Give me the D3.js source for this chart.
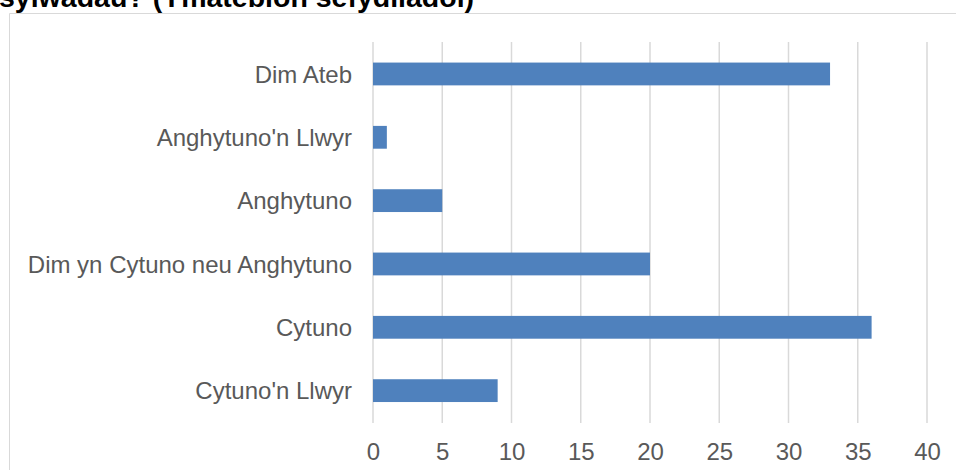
<!DOCTYPE html>
<html>
<head>
<meta charset="utf-8">
<script src="https://cdn.jsdelivr.net/npm/d3@7"></script>
<style>
  html, body { margin: 0; padding: 0; background: #fff; overflow: hidden; }
  svg { display: block; }
</style>
</head>
<body>
<script>
const categories = ["Dim Ateb", "Anghytuno'n Llwyr", "Anghytuno", "Dim yn Cytuno neu Anghytuno", "Cytuno", "Cytuno'n Llwyr"];
const values = [33, 1, 5, 20, 36, 9];
const xTicks = [0, 5, 10, 15, 20, 25, 30, 35, 40];
const titleText = "sylwadau? (Ymatebion sefydliadol)";

const W = 956, H = 470;
const svg = d3.select("body").append("svg").attr("width", W).attr("height", H);

// chart frame
svg.append("path")
  .attr("d", `M9.5,${H} V13.5 H${W}`)
  .attr("fill", "none").attr("stroke", "#d9d9d9").attr("stroke-width", 1);

// title (clipped at top, as in the reference)
svg.append("text")
  .attr("x", -1).attr("y", 6.5)
  .attr("font-family", "Liberation Sans, Arial, sans-serif")
  .attr("font-weight", "bold").attr("font-size", 28.5)
  .attr("fill", "#000")
  .text(titleText);

const x = d3.scaleLinear().domain([0, 40]).range([373, 927]);
const y = d3.scaleBand().domain(categories).range([42.3, 422.3]).paddingInner(0.64).paddingOuter(0.32);

// gridlines
svg.append("g").selectAll("line").data(xTicks).join("line")
  .attr("x1", d => x(d)).attr("x2", d => x(d))
  .attr("y1", 42).attr("y2", 423)
  .attr("stroke", "#d9d9d9").attr("stroke-width", 1.5);

// bars
svg.append("g").selectAll("rect").data(values).join("rect")
  .attr("x", x(0))
  .attr("y", (d, i) => y(categories[i]))
  .attr("width", d => x(d) - x(0))
  .attr("height", y.bandwidth())
  .attr("fill", "#4f81bd");

// x axis labels
const xAxis = svg.append("g").attr("transform", "translate(0,423)")
  .call(d3.axisBottom(x).tickValues(xTicks).tickSize(0).tickPadding(20));
xAxis.select(".domain").remove();
xAxis.selectAll("text")
  .attr("font-family", "Liberation Sans, Arial, sans-serif")
  .attr("font-size", 24).attr("fill", "#595959");

// y axis labels
const yAxis = svg.append("g").attr("transform", `translate(${x(0)},0)`)
  .call(d3.axisLeft(y).tickSize(0).tickPadding(21));
yAxis.select(".domain").remove();
yAxis.selectAll("text")
  .attr("font-family", "Liberation Sans, Arial, sans-serif")
  .attr("font-size", 24).attr("fill", "#595959")
  .attr("dy", "0.36em");
</script>
</body>
</html>
